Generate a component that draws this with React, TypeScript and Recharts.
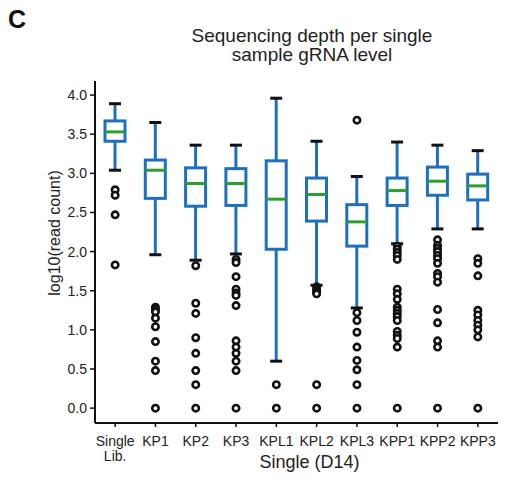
import { ComposedChart, Bar, Scatter, XAxis, YAxis } from 'recharts';

const categories = ['Single\nLib.', 'KP1', 'KP2', 'KP3', 'KPL1', 'KPL2', 'KPL3', 'KPP1', 'KPP2', 'KPP3'];

const whiskerLow = [3.04, 1.96, 1.89, 1.97, 0.6, 1.57, 1.28, 2.1, 2.29, 2.29];
const q1 = [3.41, 2.68, 2.58, 2.59, 2.03, 2.39, 2.07, 2.59, 2.72, 2.66];
const median = [3.53, 3.04, 2.87, 2.87, 2.67, 2.73, 2.38, 2.78, 2.9, 2.84];
const q3 = [3.67, 3.17, 3.07, 3.06, 3.16, 2.94, 2.6, 2.94, 3.08, 2.99];
const whiskerHigh = [3.89, 3.65, 3.36, 3.36, 3.96, 3.41, 2.96, 3.4, 3.36, 3.29];

const outliers = [
  [2.79, 2.72, 2.47, 1.83],
  [1.29, 1.26, 1.23, 1.15, 1.04, 0.85, 0.6, 0.48, 0],
  [1.82, 1.34, 1.21, 0.9, 0.7, 0.48, 0.3, 0],
  [1.9, 1.86, 1.68, 1.52, 1.47, 1.44, 1.31, 0.86, 0.78, 0.7, 0.6, 0.48, 0],
  [0.3, 0],
  [1.55, 1.52, 1.5, 1.48, 1.46, 0.3, 0],
  [3.68, 1.22, 1.12, 0.97, 0.78, 0.61, 0.49, 0.3, 0],
  [2.07, 2.03, 1.99, 1.95, 1.9, 1.52, 1.46, 1.39, 1.29, 1.25, 1.21, 1.17, 1.12, 0.98, 0.93, 0.89, 0.78, 0],
  [2.15, 2.08, 2.04, 2.0, 1.95, 1.91, 1.85, 1.72, 1.68, 1.61, 1.26, 1.09, 0.86, 0.78, 0],
  [1.91, 1.85, 1.69, 1.25, 1.19, 1.12, 1.06, 1.0, 0.91, 0],
];

const yTicks = [0, 0.5, 1, 1.5, 2, 2.5, 3, 3.5, 4];

const boxData = categories.map((name, i) => ({
  name,
  lo: whiskerLow[i],
  q1: q1[i],
  med: median[i],
  q3: q3[i],
  hi: whiskerHigh[i],
}));

const outlierData = categories.flatMap((name, i) => outliers[i].map((v) => ({ name, v })));

const FONT = '"Liberation Sans", Arial, Helvetica, sans-serif';
const BLUE = '#1f6fbf';
const GREEN = '#2ca02c';

function BoxShape(props: any) {
  const { x, y, width, height, payload } = props;
  const top = Math.min(y, y + height);
  const h = Math.abs(height);
  const span = payload.hi - payload.lo;
  const toY = (v: number) => top + ((payload.hi - v) / span) * h;
  const cx = x + width / 2;
  const capHalf = 6;
  return (
    <g>
      <line x1={cx} x2={cx} y1={toY(payload.hi)} y2={toY(payload.q3)} stroke={BLUE} strokeWidth={3} />
      <line x1={cx} x2={cx} y1={toY(payload.q1)} y2={toY(payload.lo)} stroke={BLUE} strokeWidth={3} />
      <line x1={cx - capHalf} x2={cx + capHalf} y1={toY(payload.hi)} y2={toY(payload.hi)} stroke="#111" strokeWidth={3} />
      <line x1={cx - capHalf} x2={cx + capHalf} y1={toY(payload.lo)} y2={toY(payload.lo)} stroke="#111" strokeWidth={3} />
      <rect
        x={x}
        y={toY(payload.q3)}
        width={width}
        height={toY(payload.q1) - toY(payload.q3)}
        fill="none"
        stroke={BLUE}
        strokeWidth={3}
      />
      <line x1={x} x2={x + width} y1={toY(payload.med)} y2={toY(payload.med)} stroke={GREEN} strokeWidth={3} />
    </g>
  );
}

function OutlierDot(props: any) {
  const { cx, cy } = props;
  return <circle cx={cx} cy={cy} r={3.2} fill="#fff" stroke="#111" strokeWidth={2.6} />;
}

function CategoryTick(props: any) {
  const { x, y, payload } = props;
  const lines = String(payload.value).split('\n');
  return (
    <text x={x} y={y} textAnchor="middle" fill="#222" fontSize={14} fontFamily={FONT}>
      {lines.map((ln, i) => (
        <tspan key={i} x={x} dy={i === 0 ? '0.71em' : 15}>
          {ln}
        </tspan>
      ))}
    </text>
  );
}

export default function App() {
  return (
    <div style={{ position: 'absolute', left: 0, top: 0, width: 508, height: 482, background: '#fff', fontFamily: FONT }}>
      <div style={{ position: 'absolute', left: 8, top: 7, fontSize: 25, lineHeight: '25px', fontWeight: 'bold', color: '#111' }}>
        C
      </div>
      <div
        style={{
          position: 'absolute',
          left: 162,
          top: 26,
          width: 300,
          textAlign: 'center',
          fontSize: 19,
          lineHeight: '19px',
          color: '#222',
        }}
      >
        Sequencing depth per single
        <br />
        sample gRNA level
      </div>
      <ComposedChart width={508} height={482} data={boxData} margin={{ top: 81, right: 10, bottom: 0, left: 0 }}>
        <XAxis
          dataKey="name"
          type="category"
          allowDuplicatedCategory={false}
          interval={0}
          height={59}
          tickSize={4}
          tickMargin={9}
          tick={<CategoryTick />}
          axisLine={{ stroke: '#111', strokeWidth: 2 }}
          tickLine={{ stroke: '#111', strokeWidth: 1.5 }}
          label={{
            content: (p: any) => {
              const vb = p.viewBox;
              return (
                <text x={vb.x + vb.width / 2 + 13} y={468} textAnchor="middle" fontSize={18} fill="#222" fontFamily={FONT}>
                  Single (D14)
                </text>
              );
            },
          }}
        />
        <YAxis
          type="number"
          domain={[-0.19, 4.18]}
          ticks={yTicks}
          allowDataOverflow
          width={95}
          tickSize={5}
          tickMargin={3}
          tickFormatter={(v: number) => v.toFixed(1)}
          tick={{ fontSize: 14, fill: '#222', fontFamily: FONT }}
          axisLine={{ stroke: '#111', strokeWidth: 2 }}
          tickLine={{ stroke: '#111', strokeWidth: 1.5 }}
          label={{
            content: () => (
              <text
                x={54}
                y={233}
                dy="0.35em"
                textAnchor="middle"
                fontSize={16}
                fill="#222"
                fontFamily={FONT}
                transform="rotate(-90, 54, 233)"
              >
                log10(read count)
              </text>
            ),
          }}
        />
        <Bar dataKey={(d: any) => [d.lo, d.hi]} barSize={20} shape={<BoxShape />} isAnimationActive={false} />
        <Scatter data={outlierData} dataKey="v" shape={<OutlierDot />} isAnimationActive={false} />
      </ComposedChart>
    </div>
  );
}
